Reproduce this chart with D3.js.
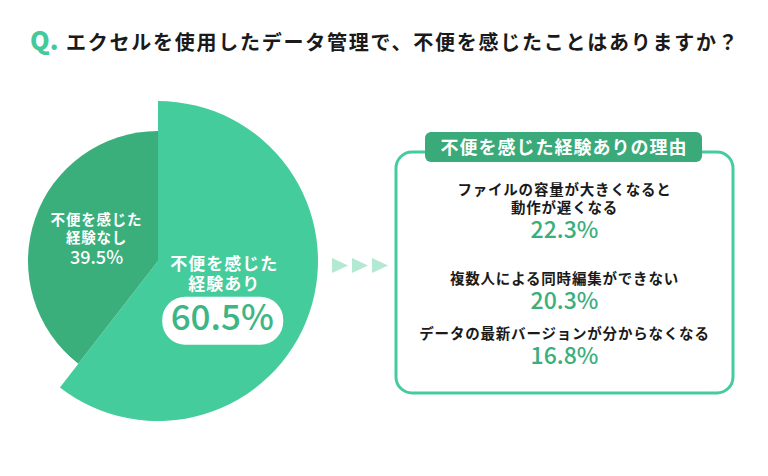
<!DOCTYPE html>
<html>
<head>
<meta charset="utf-8">
<script src="https://cdn.jsdelivr.net/npm/d3@7"></script>
<style>
  body { margin: 0; background: #fff; }
  svg text { font-family: "Noto Sans CJK JP", "Noto Sans", sans-serif; }
</style>
</head>
<body>
<svg class="chart" width="768" height="476"></svg>
<script>
// データ
var pieLabels = ["不便を感じた経験あり", "不便を感じた経験なし"];
var pieLines = [["不便を感じた", "経験あり"], ["不便を感じた", "経験なし"]];
var pieValues = [60.5, 39.5];

var reasonTitle = "不便を感じた経験ありの理由";
var reasonLabels = [
  ["ファイルの容量が大きくなると", "動作が遅くなる"],
  ["複数人による同時編集ができない"],
  ["データの最新バージョンが分からなくなる"]
];
var reasonValues = [22.3, 20.3, 16.8];

var svg = d3.select(".chart");

// タイトル
svg.append("text")
  .attr("x", 30).attr("y", 50)
  .attr("fill", "#45c99b")
  .attr("font-family", "Inter, Roboto, sans-serif")
  .attr("font-weight", 800)
  .attr("font-size", 25)
  .text("Q.");
svg.append("text")
  .attr("x", 66).attr("y", 50)
  .attr("fill", "#1a1a1a")
  .style("font-weight", 700)
  .style("font-size", "20px")
  .style("letter-spacing", "1.75px")
  .text("エクセルを使用したデータ管理で、不便を感じたことはありますか？");

// 円グラフ
var cx = 158, cy = 261;
var radius = d3.scaleOrdinal().domain(pieLabels).range([160, 130]);
var color = d3.scaleOrdinal().domain(pieLabels).range(["#45cc9c", "#3aaf7c"]);

var pie = d3.pie().sort(null).value(function(d) { return d.value; });
var slices = pie(pieLabels.map(function(l, i) {
  return {label: l, lines: pieLines[i], value: pieValues[i]};
}));

var arc = d3.arc()
  .innerRadius(0)
  .outerRadius(function(d) { return radius(d.data.label); });
var labelArc = d3.arc().innerRadius(0).outerRadius(function(d) { return d.index == 0 ? 140 : 130; });

var g = svg.append("g").attr("transform", "translate(" + cx + "," + cy + ")");

g.selectAll("path")
  .data(slices)
  .enter().append("path")
  .attr("d", arc)
  .attr("fill", function(d) { return color(d.data.label); });

// 経験なし
var s1 = slices[1], c1 = labelArc.centroid(s1);
var g1 = g.append("g").attr("transform", "translate(" + c1 + ")")
  .attr("fill", "#fff").attr("text-anchor", "middle");
s1.data.lines.forEach(function(t, i) {
  g1.append("text").attr("y", -15 + i * 18)
    .style("font-size", "14.5px").style("font-weight", 700)
    .style("letter-spacing", "0.8px")
    .text(t);
});
g1.append("text").attr("y", 24)
  .style("font-size", "18px").style("font-weight", 500)
  .text(s1.data.value + "%");

// 経験あり
var s0 = slices[0], c0 = labelArc.centroid(s0);
var g0 = g.append("g").attr("transform", "translate(" + c0 + ")").attr("text-anchor", "middle");
s0.data.lines.forEach(function(t, i) {
  g0.append("text").attr("y", -14 + i * 20)
    .attr("fill", "#fff")
    .style("font-size", "17px").style("font-weight", 700)
    .style("letter-spacing", "1px")
    .text(t);
});
g0.append("rect")
  .attr("x", -62).attr("y", 13).attr("width", 121).attr("height", 48)
  .attr("rx", 23).attr("fill", "#fff");
g0.append("text").attr("x", -2).attr("y", 46)
  .attr("fill", "#3db584")
  .style("font-size", "35px").style("font-weight", 500)
  .text(s0.data.value + "%");

// 矢印
svg.append("g").selectAll("path")
  .data(d3.range(3))
  .enter().append("path")
  .attr("d", function(i) {
    var x = 332 + i * 20;
    return "M" + x + ",258L" + (x + 16) + ",265.5L" + x + ",273Z";
  })
  .attr("fill", "#b3e9d3");

// 理由ボックス
var box = {x: 396, y: 152, w: 337, h: 241};
svg.append("rect")
  .attr("x", box.x).attr("y", box.y).attr("width", box.w).attr("height", box.h)
  .attr("rx", 16)
  .attr("fill", "none").attr("stroke", "#45cc9c").attr("stroke-width", 3);

svg.append("rect")
  .attr("x", 425).attr("y", 132).attr("width", 277).attr("height", 30)
  .attr("rx", 6).attr("fill", "#3aaa7a");
svg.append("text")
  .attr("x", 564).attr("y", 154)
  .attr("text-anchor", "middle").attr("fill", "#fff")
  .style("font-size", "18px").style("font-weight", 700)
  .style("letter-spacing", "1px")
  .text(reasonTitle);

// 項目の縦位置
var y = d3.scalePoint().domain(reasonLabels.map(function(d) { return d.join(""); }))
  .range([195, 339]);
var mid = box.x + box.w / 2;

reasonLabels.forEach(function(lines, i) {
  var key = lines.join("");
  var top = y(key);
  if (i == 1) top = 284;
  lines.forEach(function(t, j) {
    svg.append("text")
      .attr("x", mid).attr("y", top + j * 18)
      .attr("text-anchor", "middle").attr("fill", "#1a1a1a")
      .style("font-size", "14.5px").style("font-weight", 700)
      .style("letter-spacing", "0.8px")
      .text(t);
  });
  svg.append("text")
    .attr("x", mid).attr("y", top + (lines.length - 1) * 18 + 25)
    .attr("text-anchor", "middle").attr("fill", "#3aaf7c")
    .style("font-size", "23px").style("font-weight", 500)
    .text(reasonValues[i] + "%");
});
</script>
</body>
</html>
